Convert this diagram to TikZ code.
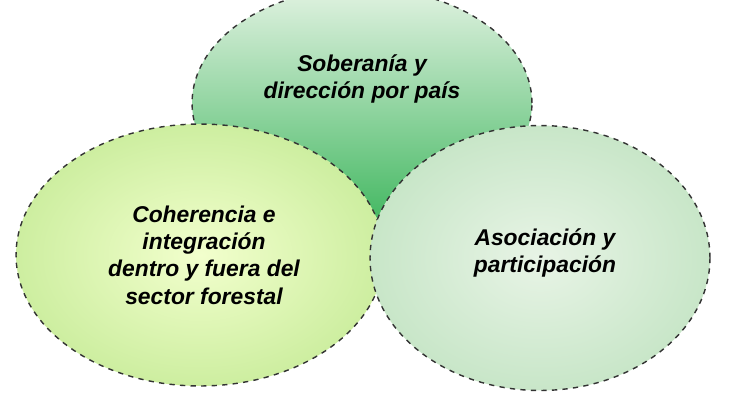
\documentclass[tikz,border=0pt]{standalone}
\usepackage{fontspec}
\setmainfont{Liberation Sans}
\usetikzlibrary{shapes.geometric}
\definecolor{topdark}{RGB}{70,185,100}
\definecolor{toplight}{RGB}{225,242,225}
\definecolor{leftin}{RGB}{242,255,205}
\definecolor{leftout}{RGB}{205,238,160}
\definecolor{rightin}{RGB}{232,244,230}
\definecolor{rightout}{RGB}{200,230,200}
\tikzset{
	circ/.style={ellipse, draw=black!80, dashed, thick, inner sep=0pt},
	lbl/.style={align=center, font=\fontsize{13}{15.5}\selectfont\bfseries\itshape}
}
\begin{document}
\begin{tikzpicture}[x=0.02cm, y=-0.02cm]
	\useasboundingbox (0,0) rectangle (730,400);
	\node[circ, minimum width=6.8cm, minimum height=4.6cm,
		top color=toplight, bottom color=topdark] (sob) at (362,103) {};
	\node[circ, minimum width=7.36cm, minimum height=5.24cm,
		inner color=leftin, outer color=leftout] (coh) at (200,255) {};
	\node[circ, minimum width=6.8cm, minimum height=5.3cm,
		inner color=rightin, outer color=rightout] (aso) at (540,258) {};
	
	\node[lbl] (tsob) at (362,79) {Soberanía y\\dirección por país};
	\node[lbl] (tcoh) at (204,255) {Coherencia e\\integración\\dentro y fuera del\\sector forestal};
	\node[lbl] (taso) at (545,253) {Asociación y\\participación};
\end{tikzpicture}
\end{document}
